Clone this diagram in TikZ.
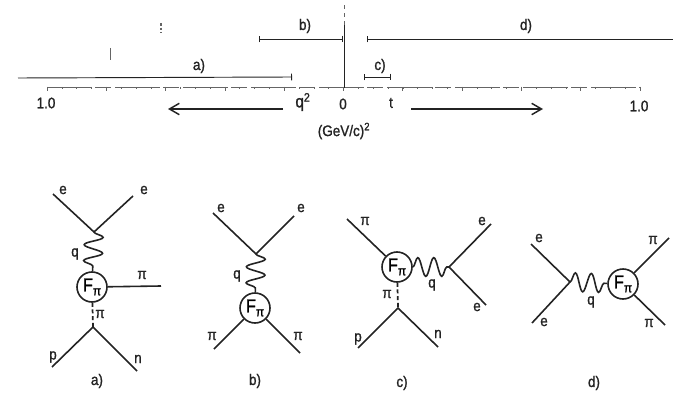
\documentclass[tikz,border=0pt]{standalone}
\usepackage{fontspec}
\setmainfont[FakeStretch=0.88,FakeBold=1.2]{Liberation Sans}
\usetikzlibrary{positioning,arrows.meta,decorations.pathmorphing}
\definecolor{ScanInk}{RGB}{35,35,35}
\tikzset{
  line/.style={draw=ScanInk,line width=1.2pt},
  rangebar/.style={draw=ScanInk,line width=0.7pt,{Bar[width=5pt]}-{Bar[width=5pt]}},
  axisline/.style={draw=ScanInk!70,line width=0.5pt,dash pattern=on 34pt off 2pt on 12pt off 3pt},
  longarrow/.style={draw=ScanInk,line width=1.1pt,-{Straight Barb[length=2.6mm,width=3mm]}},
  photon/.style={draw=ScanInk,line width=1.2pt,decorate,decoration={snake,segment length=12pt,amplitude=7pt}},
  virtual/.style={draw=ScanInk,line width=1.3pt,dash pattern=on 3pt off 2pt},
  blob/.style={circle,draw=ScanInk,line width=1.2pt,minimum size=22.5pt,inner sep=0pt,font=\fontsize{14}{14}\selectfont},
  lbl/.style={inner sep=0pt,text=ScanInk,font=\fontsize{11.5}{12}\selectfont}
}
\newcommand{\Fpi}{F\raisebox{-3pt}{\fontsize{10}{10}\selectfont π}}
\begin{document}
\begin{tikzpicture}[x=0.75pt,y=-0.75pt]
  \useasboundingbox (0,0) rectangle (673,392);
  % kinematic ranges
  \coordinate (a1) at (18,78);
  \coordinate (a2) at (292,77);
  \coordinate (b1) at (259,39);
  \coordinate (b2) at (343,39);
  \coordinate (c1) at (364,77);
  \coordinate (c2) at (391,77);
  \coordinate (d1) at (367,39);
  \coordinate (d2) at (673,39);
  \draw[line width=0.7pt,draw=ScanInk,-{Bar[width=5pt]}] (a1) -- (a2);
  \draw[rangebar] (b1) -- (b2);
  \draw[rangebar] (c1) -- (c2);
  \draw[line width=0.7pt,draw=ScanInk,{Bar[width=5pt]}-] (d1) -- (d2);
  \node[lbl] (la) at (199,66) {a)};
  \node[lbl] (lb) at (305,26) {b)};
  \node[lbl] (lc) at (380,66) {c)};
  \node[lbl] (ld) at (526,26) {d)};
  % axis
  \coordinate (axl) at (47,87);
  \coordinate (axr) at (640,87);
  \coordinate (v0) at (344,88);
  \coordinate (v1) at (344,25);
  \coordinate (v2) at (344,5);
  \draw[axisline] (axl) -- (axr);
  \draw[draw=ScanInk,line width=0.6pt] (v0) -- (v1);
  \draw[draw=ScanInk!70,line width=0.6pt,dashed] (v1) -- (v2);
  \draw[draw=ScanInk!70,line width=0.6pt] (110,48) -- (110,60);
  \draw[draw=ScanInk!70,line width=0.8pt,dash pattern=on 2pt off 1.5pt] (161,23) -- (161,33);
  \foreach \i in {0,...,40}
    \draw[draw=ScanInk!70,line width=0.4pt] ({47+\i*14.825},87) -- ({47+\i*14.825},89);
  \foreach \i in {0,...,10}
    \draw[draw=ScanInk!70,line width=0.5pt] ({47+\i*59.3},87) -- ({47+\i*59.3},91);
  \node[lbl] (one1) at (46,103) {1.0};
  \node[lbl,font=\fontsize{13}{13}\selectfont] (qsq) at (303,102) {q\textsuperscript{2}};
  \node[lbl] (zero) at (343,104) {0};
  \node[lbl] (tlab) at (391,103) {t};
  \node[lbl] (one2) at (639,106) {1.0};
  \node[lbl] (unit) at (344,131) {(GeV/c)\textsuperscript{2}};
  \coordinate (q1) at (283,109);
  \coordinate (q2) at (168,109);
  \coordinate (t1) at (411,109);
  \coordinate (t2) at (543,109);
  \draw[longarrow] (q1) -- (q2);
  \draw[longarrow] (t1) -- (t2);

  % diagram a)
  \node[blob] (Fa) at (92,287) {\Fpi};
  \coordinate (av) at (94,232);
  \coordinate (ae1) at (53,194);
  \coordinate (ae2) at (133,196);
  \coordinate (api) at (161,286);
  \coordinate (an) at (93,327);
  \coordinate (ap) at (52,367);
  \coordinate (ao) at (137,371);
  \draw[line] (ae1) -- (av) -- (ae2);
  \draw[photon] (av) -- (Fa);
  \draw[line] (Fa) -- (api);
  \draw[virtual] (Fa) -- (an);
  \draw[line] (ap) -- (an) -- (ao);
  \node[lbl] at (63,190) {e};
  \node[lbl] at (144,190) {e};
  \node[lbl] at (75,254) {q};
  \node[lbl] at (142,275) {π};
  \node[lbl] at (100,314) {π};
  \node[lbl] at (53,357) {p};
  \node[lbl] at (138,359) {n};
  \node[lbl] at (97,381) {a)};

  % diagram b)
  \node[blob] (Fb) at (255,308) {\Fpi};
  \coordinate (bv) at (256,254);
  \coordinate (be1) at (213,213);
  \coordinate (be2) at (294,216);
  \coordinate (bp1) at (214,349);
  \coordinate (bp2) at (300,353);
  \draw[line] (be1) -- (bv) -- (be2);
  \draw[photon] (bv) -- (Fb);
  \draw[line] (Fb) -- (bp1);
  \draw[line] (Fb) -- (bp2);
  \node[lbl] at (221,208) {e};
  \node[lbl] at (301,208) {e};
  \node[lbl] at (237,276) {q};
  \node[lbl] at (212,336) {π};
  \node[lbl] at (298,336) {π};
  \node[lbl] at (255,381) {b)};

  % diagram c)
  \node[blob] (Fc) at (397,267) {\Fpi};
  \coordinate (cv) at (449,267);
  \coordinate (cpi) at (347,219);
  \coordinate (ce1) at (491,224);
  \coordinate (ce2) at (486,305);
  \coordinate (cn) at (398,308);
  \coordinate (cp) at (358,348);
  \coordinate (co) at (438,347);
  \draw[line] (cpi) -- (Fc);
  \draw[photon] (Fc) -- (cv);
  \draw[line] (ce1) -- (cv) -- (ce2);
  \draw[virtual] (Fc) -- (cn);
  \draw[line] (cp) -- (cn) -- (co);
  \node[lbl] at (365,221) {π};
  \node[lbl] at (482,221) {e};
  \node[lbl] at (477,307) {e};
  \node[lbl] at (432,285) {q};
  \node[lbl] at (387,294) {π};
  \node[lbl] at (358,339) {p};
  \node[lbl] at (438,334) {n};
  \node[lbl] at (402,383) {c)};

  % diagram d)
  \node[blob] (Fd) at (623,284) {\Fpi};
  \coordinate (dv) at (570,282);
  \coordinate (de1) at (531,244);
  \coordinate (de2) at (532,323);
  \coordinate (dp1) at (669,238);
  \coordinate (dp2) at (665,325);
  \draw[line] (de1) -- (dv) -- (de2);
  \draw[photon] (dv) -- (Fd);
  \draw[line] (Fd) -- (dp1);
  \draw[line] (Fd) -- (dp2);
  \node[lbl] at (539,238) {e};
  \node[lbl] at (544,322) {e};
  \node[lbl] at (591,302) {q};
  \node[lbl] at (653,240) {π};
  \node[lbl] at (649,323) {π};
  \node[lbl] at (594,383) {d)};
\end{tikzpicture}
\end{document}
